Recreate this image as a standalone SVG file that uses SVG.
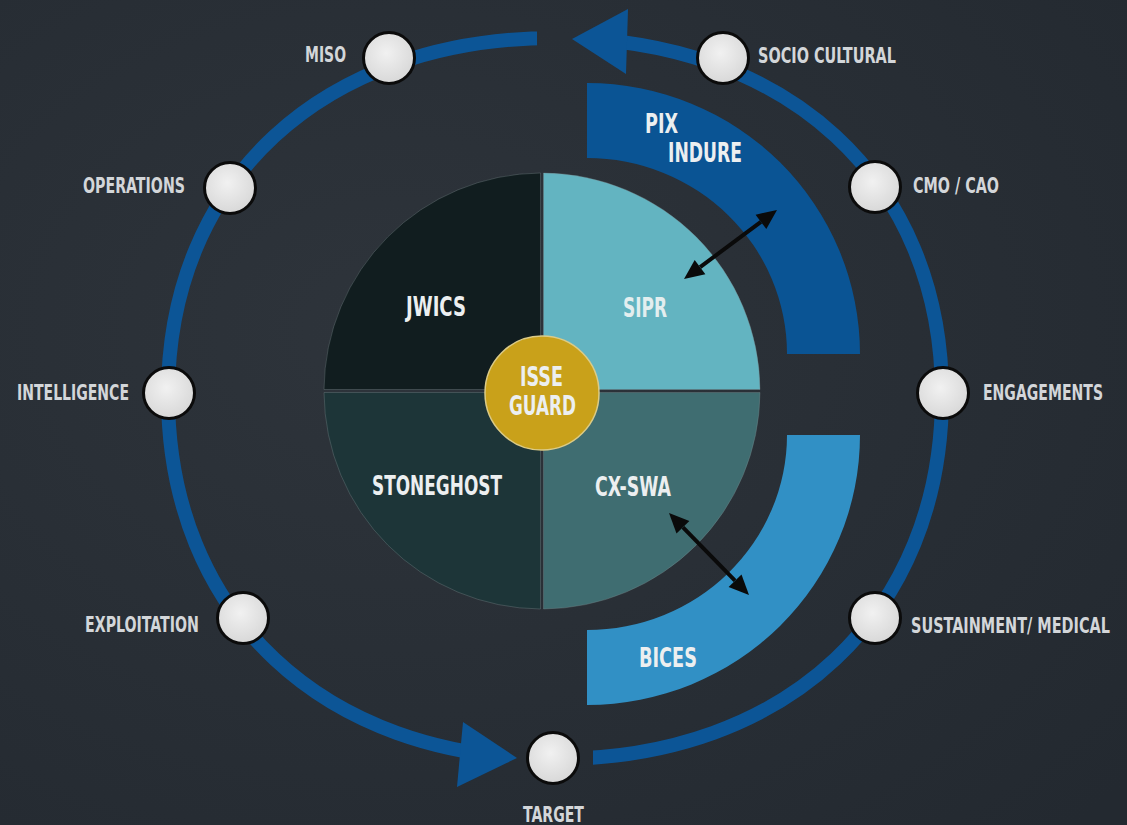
<svg xmlns="http://www.w3.org/2000/svg" width="1127" height="825" viewBox="0 0 1127 825">
<defs>
<style>
.lbl{font-family:'Liberation Sans Narrow','DejaVu Sans Condensed','Liberation Sans',Arial,sans-serif;font-weight:bold;fill:#d3d6d9;font-size:22px}
.in{font-family:'Liberation Sans Narrow','DejaVu Sans Condensed','Liberation Sans',Arial,sans-serif;font-weight:bold;fill:#eceff0;font-size:27px}
.node{fill:url(#pearl);stroke:#0b0b0b;stroke-width:3}
.ring{fill:none;stroke:#0c5596;stroke-width:14}
.arrowhead{fill:#0c5596}
.dbl{stroke:#0a0a0a;stroke-width:4;fill:none}
.dblh{fill:#0a0a0a}
.quad{stroke:#7d8c8f;stroke-opacity:0.35;stroke-width:1}
</style>
<radialGradient id="bg" cx="0.35" cy="0.4" r="0.85">
<stop offset="0" stop-color="#2e343b"/>
<stop offset="1" stop-color="#232930"/>
</radialGradient>
<radialGradient id="pearl" cx="0.45" cy="0.4" r="0.6">
<stop offset="0" stop-color="#f1f1f1"/>
<stop offset="1" stop-color="#d8d8d8"/>
</radialGradient>
<clipPath id="ringclip">
<path clip-rule="evenodd" d="M0,0H1127V825H0Z M537,0H624V85H537Z M472,700H593V825H472Z"/>
</clipPath>
</defs>
<rect width="1127" height="825" fill="url(#bg)"/>

<g id="connectors">
<path class="ring" clip-path="url(#ringclip)" d="M555,38 C322.8,38 168,180.8 168,395 C168,613.4 322.8,759 555,759 C787.2,759 942,613.4 942,395 C942,180.8 787.2,38 555,38 Z"/>
<polygon class="arrowhead" points="572,39 628,9 626,74"/>
<polygon class="arrowhead" points="517,758 463,722 457,787"/>
</g>

<g id="band-pix">
<path fill="#0a5494" d="M587,83 A273,271 0 0 1 860,354 L787,354 A200,196 0 0 0 587,158 Z"/>
<text class="in" x="645" y="133" textLength="33" lengthAdjust="spacingAndGlyphs">PIX</text>
<text class="in" x="668" y="162" textLength="74" lengthAdjust="spacingAndGlyphs">INDURE</text>
</g>
<g id="band-bices">
<path fill="#3190c5" d="M860,435 A273,270 0 0 1 587,705 L587,630 A200,195 0 0 0 787,435 Z"/>
<text class="in" x="639" y="667" textLength="58" lengthAdjust="spacingAndGlyphs">BICES</text>
</g>

<g id="q-jwics">
<path class="quad" fill="#111d1f" d="M540.5,389.5 V173 A218,218 0 0 0 324,389.5 Z"/>
<text class="in" x="406" y="316" textLength="60" lengthAdjust="spacingAndGlyphs">JWICS</text>
</g>
<g id="q-sipr">
<path class="quad" fill="#63b4c1" d="M543.5,389.5 V173 A218,218 0 0 1 760,389.5 Z"/>
<text class="in" x="623" y="317" textLength="44" lengthAdjust="spacingAndGlyphs" style="fill:#e3eeef">SIPR</text>
</g>
<g id="q-stoneghost">
<path class="quad" fill="#1d3538" d="M540.5,392.5 V609 A218,218 0 0 1 324,392.5 Z"/>
<text class="in" x="372" y="495" textLength="130" lengthAdjust="spacingAndGlyphs">STONEGHOST</text>
</g>
<g id="q-cxswa">
<path class="quad" fill="#3f6d71" d="M543.5,392.5 V609 A218,218 0 0 0 760,392.5 Z"/>
<text class="in" x="595" y="496" textLength="76" lengthAdjust="spacingAndGlyphs">CX-SWA</text>
</g>
<g id="isse-guard">
<circle cx="542" cy="393" r="57" fill="#c9a11a" stroke="#dccb86" stroke-width="1.5"/>
<text class="in" x="520" y="386" textLength="43" lengthAdjust="spacingAndGlyphs" style="font-size:26px">ISSE</text>
<text class="in" x="509" y="415" textLength="67" lengthAdjust="spacingAndGlyphs" style="font-size:26px">GUARD</text>
</g>

<g id="arrows-links">
<line class="dbl" x1="700.1" y1="267.1" x2="760.9" y2="221.9"/>
<polygon class="dblh" points="777,210 766.3,229.1 755.6,214.7"/>
<polygon class="dblh" points="684,279 705.4,274.3 694.7,259.9"/>
<line class="dbl" x1="683" y1="527.3" x2="735" y2="580.7"/>
<polygon class="dblh" points="669,513 689.4,521 676.5,533.6"/>
<polygon class="dblh" points="749,595 741.5,574.4 728.6,587"/>
</g>

<g id="n-miso"><circle class="node" cx="389" cy="58" r="25.5"/><text class="lbl" x="305" y="62" textLength="41" lengthAdjust="spacingAndGlyphs">MISO</text></g>
<g id="n-socio"><circle class="node" cx="723" cy="58" r="25.5"/><text class="lbl" x="758" y="63" textLength="138" lengthAdjust="spacingAndGlyphs">SOCIO CULTURAL</text></g>
<g id="n-operations"><circle class="node" cx="230" cy="188" r="25.5"/><text class="lbl" x="83" y="193" textLength="102" lengthAdjust="spacingAndGlyphs">OPERATIONS</text></g>
<g id="n-cmo"><circle class="node" cx="875" cy="187" r="25.5"/><text class="lbl" x="913" y="193" textLength="86" lengthAdjust="spacingAndGlyphs">CMO / CAO</text></g>
<g id="n-intelligence"><circle class="node" cx="169" cy="393" r="25.5"/><text class="lbl" x="17" y="400" textLength="112" lengthAdjust="spacingAndGlyphs">INTELLIGENCE</text></g>
<g id="n-engagements"><circle class="node" cx="943" cy="393" r="25.5"/><text class="lbl" transform="translate(983,400) scale(1,1.19)" x="0" y="0" style="font-size:18.5px" textLength="120" lengthAdjust="spacingAndGlyphs">ENGAGEMENTS</text></g>
<g id="n-exploitation"><circle class="node" cx="243" cy="618" r="25.5"/><text class="lbl" x="85" y="632" textLength="114" lengthAdjust="spacingAndGlyphs">EXPLOITATION</text></g>
<g id="n-sustainment"><circle class="node" cx="875" cy="618" r="25.5"/><text class="lbl" transform="translate(911,633) scale(1,1.32)" x="0" y="0" style="font-size:16.6px" textLength="199" lengthAdjust="spacingAndGlyphs">SUSTAINMENT/ MEDICAL</text></g>
<g id="n-target"><circle class="node" cx="553" cy="758" r="25.5"/><text class="lbl" x="523" y="822" textLength="61" lengthAdjust="spacingAndGlyphs">TARGET</text></g>
</svg>
